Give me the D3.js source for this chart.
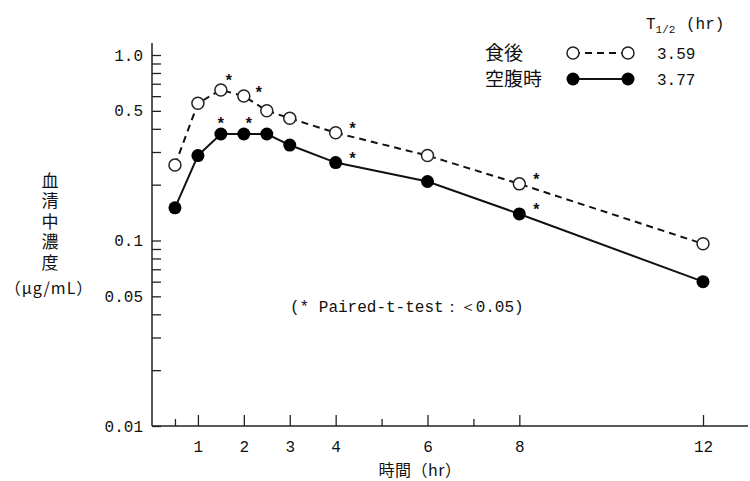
<!DOCTYPE html>
<html><head><meta charset="utf-8">
<script src="https://cdn.jsdelivr.net/npm/d3@7"></script>
<style>
body{margin:0;background:#fff;}
svg{display:block;}
</style></head><body>
<svg id="chart" width="750" height="481"></svg>
<script>
// ---- data ----
const times = [0.5, 1, 1.5, 2, 2.5, 3, 4, 6, 8, 12];
const fedValues = [0.255, 0.549, 0.648, 0.601, 0.501, 0.456, 0.381, 0.287, 0.202, 0.096];
const fastingValues = [0.150, 0.287, 0.375, 0.375, 0.375, 0.327, 0.263, 0.208, 0.139, 0.060];
const fedSignificant = [false, false, true, true, false, false, true, false, true, false];
const fastingSignificant = [false, false, true, true, false, false, true, false, true, false];
const seriesNames = ["食後", "空腹時"];
const halfLives = ["3.59", "3.77"];
const xTickValues = [1, 2, 3, 4, 6, 8, 12];
const xMinorTicks = [0.5, 5, 7];
const yLabelValues = [1, 0.5, 0.1, 0.05, 0.01];
const yLabelTexts = ["1.0", "0.5", "0.1", "0.05", "0.01"];
const yMinorTicks = [0.02, 0.03, 0.04, 0.06, 0.07, 0.08, 0.09, 0.2, 0.3, 0.4, 0.6, 0.7, 0.8, 0.9];
const yTitle = "血清中濃度";
const yUnit = "（μg/mL）";
const xTitle = "時間（hr）";
const noteText = "(* Paired-t-test：＜0.05)";

// ---- setup ----
const svg = d3.select("#chart");
const INK = "#111";
const AX = "#222";
const MONO = "'Liberation Mono', monospace";
const CJK = "'Noto Sans CJK JP', sans-serif";

const x = d3.scaleLinear().domain([0, 12]).range([152, 703]);
const y = d3.scaleLog().domain([0.01, 1]).range([426, 55]);

// axes lines
svg.append("line").attr("x1", x(0)).attr("x2", x(0)).attr("y1", 43).attr("y2", y(0.01))
  .attr("stroke", AX).attr("stroke-width", 1.5);
svg.append("line").attr("x1", x(0)).attr("x2", 748).attr("y1", y(0.01)).attr("y2", y(0.01))
  .attr("stroke", AX).attr("stroke-width", 1.5);

// y axis
const labelMap = new Map(yLabelValues.map((v, i) => [v, yLabelTexts[i]]));
const yAxis = d3.axisLeft(y)
  .tickValues(yLabelValues.concat(yMinorTicks))
  .tickSizeInner(-9).tickSizeOuter(0).tickPadding(9)
  .tickFormat(d => labelMap.get(d) || "");
const gy = svg.append("g").attr("transform", `translate(${x(0)},0)`).call(yAxis);
gy.select(".domain").remove();
gy.selectAll(".tick line").attr("stroke", AX).attr("stroke-width", 1.3);
gy.selectAll(".tick text").attr("fill", INK).style("font-family", MONO).style("font-size", "16px");

// x axis
const xAxis = d3.axisBottom(x).tickValues(xTickValues).tickSizeInner(-11).tickSizeOuter(0).tickPadding(15);
const gx = svg.append("g").attr("transform", `translate(0,${y(0.01)})`).call(xAxis);
gx.select(".domain").remove();
gx.selectAll(".tick line").attr("stroke", AX).attr("stroke-width", 1.3);
gx.selectAll(".tick text").attr("fill", INK).style("font-family", MONO).style("font-size", "16px");

const xAxisMinor = d3.axisBottom(x).tickValues(xMinorTicks).tickSizeInner(-7).tickSizeOuter(0).tickFormat("");
const gxm = svg.append("g").attr("transform", `translate(0,${y(0.01)})`).call(xAxisMinor);
gxm.select(".domain").remove();
gxm.selectAll(".tick line").attr("stroke", AX).attr("stroke-width", 1.3);

// axis titles
svg.append("text").attr("x", 50).attr("y", 172)
  .attr("fill", INK)
  .style("writing-mode", "vertical-rl").style("text-orientation", "upright")
  .style("letter-spacing", "3.4px")
  .style("font-family", CJK).style("font-size", "17px").text(yTitle);
svg.append("text").attr("x", 49).attr("y", 288).attr("dy", "0.36em")
  .attr("text-anchor", "middle").attr("fill", INK)
  .style("font-family", CJK).style("font-size", "16px").style("letter-spacing", "1px").text(yUnit);
svg.append("text").attr("x", 420).attr("y", 476)
  .attr("text-anchor", "middle").attr("fill", INK)
  .style("font-family", CJK).style("font-size", "16px").style("letter-spacing", "0.5px").text(xTitle);

// note
svg.append("text").attr("x", 290).attr("y", 306).attr("dy", "0.36em")
  .attr("fill", INK).style("font-family", MONO).style("font-size", "16px").text(noteText);

// series
const fedData = times.map((t, i) => ({t, v: fedValues[i], sig: fedSignificant[i], s: "fed"}));
const fastData = times.map((t, i) => ({t, v: fastingValues[i], sig: fastingSignificant[i], s: "fast"}));
const line = d3.line().x(d => x(d.t)).y(d => y(d.v));

svg.append("path").datum(fedData).attr("d", line).attr("fill", "none")
  .attr("stroke", INK).attr("stroke-width", 2).attr("stroke-dasharray", "7,5");
svg.append("path").datum(fastData).attr("d", line).attr("fill", "none")
  .attr("stroke", INK).attr("stroke-width", 2);

svg.append("g").selectAll("circle").data(fedData).join("circle")
  .attr("cx", d => x(d.t)).attr("cy", d => y(d.v)).attr("r", 6)
  .attr("fill", "#fff").attr("stroke", "#222").attr("stroke-width", 1.5);
svg.append("g").selectAll("circle").data(fastData).join("circle")
  .attr("cx", d => x(d.t)).attr("cy", d => y(d.v)).attr("r", 6.5)
  .attr("fill", "#000");

// significance asterisks
const starOffset = {
  "fed-1.5": [8, -12], "fed-2": [15, -6],
  "fast-1.5": [0, -13], "fast-2": [5, -13]
};
const sigData = fedData.concat(fastData).filter(d => d.sig);
svg.append("g").selectAll("text").data(sigData).join("text")
  .attr("x", d => x(d.t) + (starOffset[`${d.s}-${d.t}`] || [17, -7])[0])
  .attr("y", d => y(d.v) + (starOffset[`${d.s}-${d.t}`] || [17, -7])[1] + 8)
  .attr("text-anchor", "middle").attr("fill", INK)
  .style("font-family", MONO).style("font-size", "16px").style("font-weight", "bold").text("*");

// legend
const leg = svg.append("g");
const th = leg.append("text").attr("x", 646).attr("y", 29).attr("fill", INK)
  .style("font-family", MONO).style("font-size", "16px");
th.append("tspan").text("T");
th.append("tspan").attr("dy", 4).style("font-size", "11px").text("1/2");
th.append("tspan").attr("x", 686).attr("dy", -4).text("(hr)");

const legRows = [
  {name: seriesNames[0], hl: halfLives[0], fill: "#fff", dash: "7,5", r: 6, yy: 53},
  {name: seriesNames[1], hl: halfLives[1], fill: "#000", dash: null, r: 6.5, yy: 79}
];
legRows.forEach(r => {
  leg.append("text").attr("x", 485).attr("y", r.yy).attr("dy", "0.36em").attr("fill", INK)
    .style("font-family", CJK).style("font-size", "19px").text(r.name);
  leg.append("line").attr("x1", 573).attr("x2", 628).attr("y1", r.yy).attr("y2", r.yy)
    .attr("stroke", INK).attr("stroke-width", 2).attr("stroke-dasharray", r.dash);
  [573, 628].forEach(cx => {
    leg.append("circle").attr("cx", cx).attr("cy", r.yy).attr("r", r.r)
      .attr("fill", r.fill).attr("stroke", "#222").attr("stroke-width", r.fill === "#fff" ? 1.5 : 0);
  });
  leg.append("text").attr("x", 657).attr("y", r.yy).attr("dy", "0.36em").attr("fill", INK)
    .style("font-family", MONO).style("font-size", "16px").text(r.hl);
});
</script>
</body></html>
